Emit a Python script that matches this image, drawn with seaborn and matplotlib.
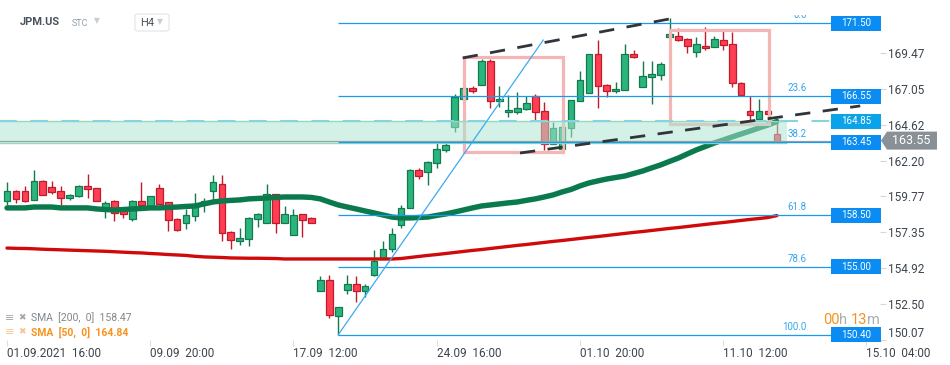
import numpy as np
import pandas as pd
import matplotlib
matplotlib.use('Agg')
import matplotlib.pyplot as plt
import matplotlib.transforms as mtransforms
from matplotlib.patches import Rectangle, Polygon, FancyBboxPatch
import seaborn as sns

sns.set_style('white')
plt.rcParams['font.family'] = ['Roboto', 'DejaVu Sans']

# H4 candles JPM.US, 01.09.2021 16:00 -> 14.10
opens = [159.46, 160.14, 160.14, 159.53, 160.82, 160.41, 160.14, 159.66, 159.80, 160.48,
         160.34, 158.92, 159.46, 158.92, 158.24, 159.46, 159.12, 160.34, 159.39, 158.24,
         157.97, 158.44, 159.33, 160.14, 160.61, 157.36, 156.75, 156.89, 158.24, 157.97,
         159.93, 157.97, 157.16, 158.58, 158.31, 153.36, 154.11, 151.67, 153.43, 153.84,
         153.36, 154.45, 155.53, 156.21, 157.83, 158.99, 161.56, 161.42, 162.04, 162.92,
         164.48, 166.37, 167.12, 167.32, 168.95, 166.24, 165.49, 165.49, 165.70, 166.58,
         165.56, 163.32, 162.98, 164.41, 166.24, 166.78, 169.42, 167.32, 166.91, 166.98,
         169.42, 167.19, 167.86, 168.00, 170.57, 170.64, 170.44, 169.56, 169.96, 169.90,
         170.37, 170.10, 167.46, 165.56, 165.02, 165.56, 164.00]
highs = [160.75, 160.21, 160.48, 161.56, 160.85, 160.82, 160.48, 159.90, 160.55, 161.29,
         160.37, 159.46, 159.50, 158.95, 159.50, 160.75, 159.83, 160.61, 159.42, 158.31,
         158.92, 160.00, 159.66, 161.22, 161.22, 157.40, 157.63, 158.35, 158.65, 160.61,
         159.95, 159.12, 158.92, 158.60, 158.37, 154.38, 154.45, 152.30, 154.45, 154.38,
         153.84, 156.14, 156.75, 157.63, 159.19, 161.63, 161.70, 162.15, 163.46, 163.46,
         166.71, 167.15, 167.25, 169.08, 169.08, 167.25, 166.64, 166.85, 166.58, 166.71,
         166.17, 164.81, 164.50, 166.33, 168.27, 169.45, 170.37, 167.39, 167.52, 170.10,
         169.67, 168.95, 168.95, 168.88, 171.86, 171.18, 170.47, 170.57, 171.25, 170.64,
         170.98, 170.91, 167.52, 166.58, 166.37, 165.60, 165.02]
lows = [159.19, 159.33, 159.39, 159.50, 159.85, 159.93, 159.19, 159.53, 159.75, 159.66,
        159.43, 158.31, 158.10, 158.31, 158.10, 159.05, 159.10, 159.23, 157.43, 157.45,
        157.56, 158.10, 158.71, 159.53, 156.75, 156.21, 156.48, 156.41, 157.70, 157.95,
        157.29, 157.95, 157.13, 157.02, 157.95, 153.33, 151.53, 150.40, 153.16, 152.62,
        152.95, 154.40, 155.50, 156.00, 157.63, 158.95, 160.95, 160.55, 161.70, 162.78,
        164.14, 166.33, 166.78, 167.30, 165.76, 165.83, 165.15, 165.36, 165.63, 164.95,
        162.92, 163.30, 162.95, 163.80, 166.20, 166.75, 165.76, 166.51, 166.78, 166.95,
        169.15, 167.15, 166.03, 167.66, 170.55, 170.30, 169.49, 169.22, 169.67, 169.88,
        169.67, 167.19, 166.60, 164.95, 165.00, 165.33, 163.52]
closes = [160.14, 159.60, 159.46, 160.82, 159.87, 160.07, 159.66, 159.87, 160.48, 160.27,
          159.46, 159.33, 158.65, 158.58, 159.46, 159.19, 159.80, 159.26, 158.17, 157.49,
          158.51, 159.26, 159.46, 160.75, 157.29, 156.82, 156.95, 158.31, 158.58, 159.93,
          157.97, 158.58, 158.51, 158.17, 157.97, 154.11, 151.73, 152.28, 153.84, 153.36,
          153.70, 155.40, 156.21, 157.22, 158.99, 161.56, 161.15, 162.10, 162.98, 163.26,
          166.51, 167.12, 166.91, 168.95, 166.24, 166.37, 165.63, 165.76, 166.10, 165.49,
          163.32, 164.41, 164.48, 166.30, 167.66, 169.42, 167.25, 166.91, 167.05, 169.42,
          169.22, 167.93, 168.07, 168.74, 170.78, 170.37, 169.96, 170.10, 169.83, 170.44,
          170.03, 167.46, 166.64, 165.29, 165.56, 165.36, 163.55]

sma50 = [158.99, 158.99, 158.99, 159.05, 159.05, 159.05, 158.99, 158.99, 158.99, 158.99,
         158.92, 158.88, 158.85, 158.88, 158.92, 158.95, 158.99, 158.99, 159.02, 159.05,
         159.09, 159.12, 159.26, 159.39, 159.46, 159.50, 159.53, 159.60, 159.63, 159.66,
         159.70, 159.73, 159.73, 159.73, 159.70, 159.60, 159.39, 159.19, 159.05, 158.92,
         158.78, 158.65, 158.51, 158.37, 158.31, 158.31, 158.34, 158.37, 158.48, 158.58,
         158.71, 158.85, 158.99, 159.12, 159.19, 159.26, 159.33, 159.39, 159.50, 159.60,
         159.73, 159.87, 160.07, 160.24, 160.48, 160.68, 160.82, 160.95, 161.05, 161.15,
         161.32, 161.49, 161.70, 161.90, 162.14, 162.37, 162.65, 162.92, 163.15, 163.39,
         163.59, 163.80, 164.00, 164.20, 164.41, 164.61, 164.84]
sma200 = [156.27, 156.25, 156.24, 156.22, 156.19, 156.17, 156.15, 156.13, 156.11, 156.09,
          156.07, 156.05, 156.02, 155.99, 155.96, 155.94, 155.90, 155.87, 155.83, 155.80,
          155.77, 155.71, 155.67, 155.65, 155.63, 155.60, 155.59, 155.58, 155.58, 155.57,
          155.56, 155.53, 155.53, 155.53, 155.53, 155.53, 155.53, 155.53, 155.53, 155.53,
          155.53, 155.53, 155.53, 155.53, 155.56, 155.63, 155.70, 155.77, 155.83, 155.90,
          155.97, 156.04, 156.11, 156.17, 156.24, 156.31, 156.38, 156.45, 156.51, 156.58,
          156.65, 156.72, 156.78, 156.85, 156.92, 156.99, 157.05, 157.12, 157.19, 157.26,
          157.33, 157.39, 157.46, 157.53, 157.60, 157.66, 157.73, 157.80, 157.87, 157.94,
          158.00, 158.07, 158.14, 158.21, 158.27, 158.34, 158.47]

# fibonacci retracement
fib_pct = ['0.0', '23.6', '38.2', '61.8', '78.6', '100.0']
fib_price = [171.50, 166.55, 163.45, 158.50, 155.00, 150.40]
fib_start = 37

# price tags on the right
tag_price = [171.50, 166.55, 164.85, 163.45, 158.50, 155.00, 150.40]
tag_label = ['171.50', '166.55', '164.85', '163.45', '158.50', '155.00', '150.40']
last_price = 163.55
alert_price = 164.85
zone_low, zone_high = 163.40, 164.85

# drawings (candle index, price)
trend_x, trend_y = [37, 59.9], [150.40, 170.37]
chan_top_x, chan_top_y = [50.9, 75.2], [169.15, 171.93]
chan_bot_x, chan_bot_y = [57.3, 95.3], [162.71, 165.90]
box1 = [51.1, 62.1, 162.76, 169.20]
box2 = [74.05, 85.1, 164.70, 171.07]

yticks = [150.07, 152.50, 154.92, 157.35, 159.77, 162.20, 164.62, 167.05, 169.47]
date_pos = [0, 16, 32, 48, 64, 80, 96]
date_labels = ['01.09.2021  16:00', '09.09  20:00', '17.09  12:00', '24.09  16:00',
               '01.10  20:00', '11.10  12:00', '15.10  04:00']

GREEN, GREEN_EDGE = '#2bb57c', '#137a50'
RED, RED_EDGE = '#fe3f52', '#c11a2c'
BLUE = '#1a9ae8'
TXT = '#3c444c'

W, H = 950, 365
fig = plt.figure(figsize=(W / 100, H / 100), dpi=100)
ax = fig.add_axes([0, 25 / H, 880 / W, 325 / H])
ax.set_xlim(-0.782, 97.51)
ax.set_ylim(150.04, 172.06)

o = np.array(opens); c = np.array(closes)
hi = np.array(highs); lo = np.array(lows)
idx = np.arange(len(o))
up = c >= o
for mask, fc, ec in [(up, GREEN, GREEN_EDGE), (~up, RED, RED_EDGE)]:
    ax.vlines(idx[mask], lo[mask], hi[mask], color=ec, lw=1.0, zorder=2)
    body = np.maximum(np.abs(c - o), 0.12)[mask]
    ax.bar(idx[mask], body, bottom=np.minimum(o, c)[mask], width=0.75,
           color=fc, edgecolor=ec, linewidth=0.9, zorder=2.1)

df = pd.DataFrame({'idx': idx, 'sma50': sma50, 'sma200': sma200})
sns.lineplot(data=df, x='idx', y='sma200', color='#d00a0a', lw=2.4, ax=ax, zorder=3)
sns.lineplot(data=df, x='idx', y='sma50', color='#0a7a4c', lw=3.9, ax=ax, zorder=3,
             solid_capstyle='round')

# pink boxes
for b in (box1, box2):
    ax.add_patch(Rectangle((b[0], b[2]), b[1] - b[0], b[3] - b[2], fill=False,
                           edgecolor='#f5b5b5', lw=2.3, zorder=3.2))

# support zone
ax.add_patch(Rectangle((-1, zone_low), 88.15, zone_high - zone_low, facecolor='#ace6d0',
                       alpha=0.53, edgecolor='none', zorder=4))
ax.hlines([zone_high, zone_low], -1, 87.15, color='#95d9bf', lw=1.0, zorder=4.1)
ax.axhline(last_price, color='#9aa3a9', lw=0.9, zorder=4.2)
ax.hlines(alert_price, -1, 92.2, color='#86d3e2', lw=1.5, linestyle=(0, (8.5, 6.5)), zorder=4.3)

# fibonacci
ax.hlines(fib_price, fib_start, 92.3, color=BLUE, lw=0.9, zorder=5)
lab_tr = mtransforms.offset_copy(ax.transData, fig=fig, y=3, units='dots')
for p, t in zip(fib_price, fib_pct):
    ax.text(89.3, p, t, transform=lab_tr, color='#35a4ec', fontsize=7,
            ha='right', va='bottom', zorder=5, clip_on=True)

# trend lines
ax.plot(trend_x, trend_y, color='#3aabf0', lw=0.9, zorder=5)
ax.plot(chan_top_x, chan_top_y, color='#2f353b', lw=2.0, linestyle=(0, (5.5, 4.5)), zorder=5)
ax.plot(chan_bot_x, chan_bot_y, color='#2f353b', lw=2.0, linestyle=(0, (5.5, 4.5)), zorder=5)

# price tags
for p, t in zip(tag_price, tag_label):
    col = '#0aa3ea' if p == alert_price else '#0a8cf2'
    ax.add_patch(Rectangle((92.05, p - 0.51), 5.55, 1.02, facecolor=col, edgecolor='none',
                           zorder=6, clip_on=False))
    ax.text(94.85, p, t, color='white', fontsize=7, ha='center', va='center', zorder=7,
            clip_on=False)

btr = mtransforms.blended_transform_factory(ax.transAxes, ax.transData)
ax.add_patch(Polygon([[881 / 880, last_price], [887 / 880, last_price + 0.61],
                      [937 / 880, last_price + 0.61], [937 / 880, last_price - 0.61],
                      [887 / 880, last_price - 0.61]], closed=True, transform=btr,
                     facecolor='#899196', edgecolor='none', clip_on=False, zorder=6))
ax.text(911 / 880, last_price, '163.55', transform=btr, color='white', fontsize=9,
        ha='center', va='center', clip_on=False, zorder=7)

# axes styling
sns.despine(ax=ax, left=True, bottom=True, right=True, top=True)
ax.set_xlabel('')
ax.set_ylabel('')
ax.yaxis.tick_right()
ax.set_yticks(yticks)
ax.set_yticklabels([f'{v:.2f}' for v in yticks])
ax.tick_params(axis='y', length=4, width=0.8, color='#d5d8db', pad=2, labelsize=8.5,
               labelcolor=TXT, right=True, left=False)
ax.set_xticks(date_pos)
ax.set_xticklabels(date_labels, ha='left')
ax.tick_params(axis='x', length=4, width=0.8, color='#dcdfe2', pad=1, labelsize=8.5,
               labelcolor=TXT, bottom=True)
ax.get_yticklabels()[0].set_va('bottom')


def ftext(px, py, s, **kw):
    fig.text(px / W, 1 - py / H, s, **kw)


# header
ftext(20, 22, 'JPM.US', fontsize=8, fontweight='bold', color='#48535d', va='center')
ftext(72, 23, 'STC', fontsize=6.5, color='#8a9eb0', va='center')
ftext(94, 21, '▼', fontsize=5.5, color='#c8cdd2', va='center')
fig.patches.append(FancyBboxPatch((135 / W, 1 - 31 / H), 34 / W, 17 / H,
                                  boxstyle='round,pad=0,rounding_size=0.004',
                                  transform=fig.transFigure, facecolor='white',
                                  edgecolor='#e1e4e7', lw=0.8))
ftext(140, 23, 'H4', fontsize=8, color='#48535d', va='center')
ftext(157, 22, '▼', fontsize=5.5, color='#c8cdd2', va='center')

# indicator legend
ftext(5, 318, '≡', fontsize=8, color='#a3a8ac', va='center')
ftext(18, 318, '✖', fontsize=6.5, color='#a3a8ac', va='center')
ftext(31, 318, 'SMA  [200,  0]  158.47', fontsize=7.5, color='#80868b', va='center')
ftext(5, 332, '≡', fontsize=8, color='#f9c48c', va='center')
ftext(18, 332, '✖', fontsize=6.5, color='#f9c48c', va='center')
ftext(31, 332, 'SMA  [50,  0]  164.84', fontsize=7.5, color='#f7931e', va='center',
      fontweight='bold')

# candle countdown
ftext(823, 320, '00', fontsize=10.5, color='#f7931e', va='center')
ftext(839, 320, 'h', fontsize=10.5, color='#a9aeb2', va='center')
ftext(851, 320, '13', fontsize=10.5, color='#f7931e', va='center')
ftext(867, 320, 'm', fontsize=10.5, color='#a9aeb2', va='center')

fig.savefig('out.png', dpi=100)
